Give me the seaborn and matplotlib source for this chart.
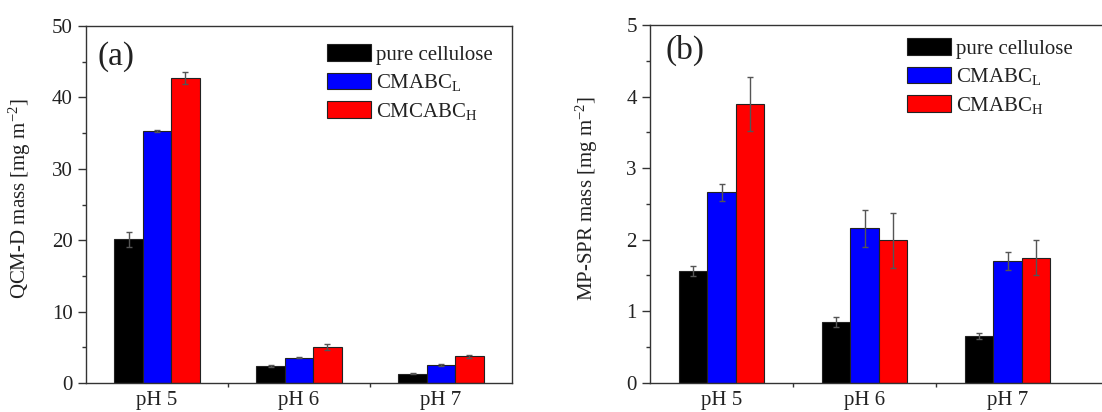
import numpy as np
import pandas as pd
import matplotlib
matplotlib.use("Agg")
import matplotlib.pyplot as plt
from matplotlib.ticker import MultipleLocator, FixedLocator, NullFormatter
import seaborn as sns

# ---- data ----
categories = ["pH 5", "pH 6", "pH 7"]

qcm_pure = [20.1, 2.4, 1.3]
qcm_pure_err = [1.0, 0.15, 0.1]
qcm_L = [35.3, 3.55, 2.55]
qcm_L_err = [0.2, 0.1, 0.1]
qcm_H = [42.7, 5.05, 3.75]
qcm_H_err = [0.8, 0.45, 0.2]

spr_pure = [1.56, 0.85, 0.65]
spr_pure_err = [0.07, 0.07, 0.04]
spr_L = [2.66, 2.16, 1.70]
spr_L_err = [0.12, 0.26, 0.13]
spr_H = [3.90, 1.99, 1.75]
spr_H_err = [0.38, 0.38, 0.24]

labels_a = ["pure cellulose", "CMABC$_L$", "CMCABC$_H$"]
labels_b = ["pure cellulose", "CMABC$_L$", "CMABC$_H$"]

sns.set_style("ticks")
plt.rcParams["font.family"] = ["Liberation Serif", "DejaVu Serif"]
plt.rcParams["mathtext.fontset"] = "custom"
plt.rcParams["mathtext.rm"] = "Liberation Serif"
plt.rcParams["mathtext.it"] = "Liberation Serif"
plt.rcParams["mathtext.default"] = "regular"
plt.rcParams["text.color"] = "#222222"
plt.rcParams["axes.labelcolor"] = "#222222"
plt.rcParams["xtick.color"] = "#333333"
plt.rcParams["ytick.color"] = "#333333"
plt.rcParams["xtick.labelcolor"] = "#222222"
plt.rcParams["ytick.labelcolor"] = "#222222"

W, H = 1102, 412
fig = plt.figure(figsize=(W / 100, H / 100), dpi=100)
fig.patch.set_facecolor("white")

palette = ["#000000", "#0000ff", "#ff0000"]


def make_panel(rect, series, errs, labels, ymax, ymajor, yminor, ylabel, tag,
               xmax, label_x, tag_xy, leg_xy, hide_right):
    ax = fig.add_axes(rect)
    rows = []
    for lab, vals in zip(labels, series):
        for c, v in zip(categories, vals):
            rows.append({"cat": c, "series": lab, "value": v})
    df = pd.DataFrame(rows)
    sns.barplot(data=df, x="cat", y="value", hue="series", hue_order=labels,
                order=categories, palette=palette, width=0.6, gap=0,
                errorbar=None, edgecolor="#222222", linewidth=0.8, ax=ax,
                saturation=1)
    for cont, vals, e in zip(ax.containers, series, errs):
        xs = [p.get_x() + p.get_width() / 2 for p in cont]
        ax.errorbar(xs, vals, yerr=e, fmt="none", ecolor="#555555",
                    elinewidth=1.0, capsize=2.5, capthick=1.0, zorder=5)
    ax.set_xlim(-0.5, xmax)
    ax.set_ylim(0, ymax)
    ax.yaxis.set_major_locator(MultipleLocator(ymajor))
    ax.yaxis.set_minor_locator(MultipleLocator(yminor))
    ax.xaxis.set_minor_locator(FixedLocator([0.5, 1.5]))
    ax.xaxis.set_minor_formatter(NullFormatter())
    ax.tick_params(axis="x", which="major", length=0, pad=6, labelsize=15)
    ax.tick_params(axis="x", which="minor", length=3, width=1, direction="out")
    ax.tick_params(axis="y", which="major", length=6, width=1, direction="out", labelsize=15)
    ax.tick_params(axis="y", which="minor", length=3, width=1, direction="out")
    ax.set_xlabel("")
    ax.set_ylabel(ylabel, fontsize=15)
    ax.yaxis.set_label_coords(label_x, 0.515)
    for s in ax.spines.values():
        s.set_color("#333333")
        s.set_linewidth(1.0)
    if hide_right:
        ax.spines["right"].set_visible(False)
    ax.text(tag_xy[0], tag_xy[1], tag, transform=ax.transAxes, fontsize=24,
            ha="left", va="center")
    handles, _ = ax.get_legend_handles_labels()
    ax.legend(handles, labels, loc="upper left", bbox_to_anchor=leg_xy,
              frameon=False, fontsize=15, handlelength=2.1, handleheight=0.87,
              handletextpad=0.25, labelspacing=0.36, borderpad=0,
              borderaxespad=0)
    return ax


ax1 = make_panel([86 / W, (H - 383) / H, 426 / W, 357 / H],
                 [qcm_pure, qcm_L, qcm_H], [qcm_pure_err, qcm_L_err, qcm_H_err],
                 labels_a, 50, 10, 5, "QCM-D mass [mg m$^{-2}$]", "(a)",
                 2.5, -0.124, (0.026, 0.913),
                 ((327 - 86) / 426, (383 - 44) / 357), False)

ax2 = make_panel([650 / W, (H - 382.7) / H, 460 / W, 357.7 / H],
                 [spr_pure, spr_L, spr_H], [spr_pure_err, spr_L_err, spr_H_err],
                 labels_b, 5, 1, 0.5, "MP-SPR mass [mg m$^{-2}$]", "(b)",
                 -0.5 + 460 / 143, -0.109, (0.033, 0.93),
                 ((907 - 650) / 460, (382.7 - 38) / 357.7), True)

fig.savefig("out.png", dpi=100, facecolor="white")
